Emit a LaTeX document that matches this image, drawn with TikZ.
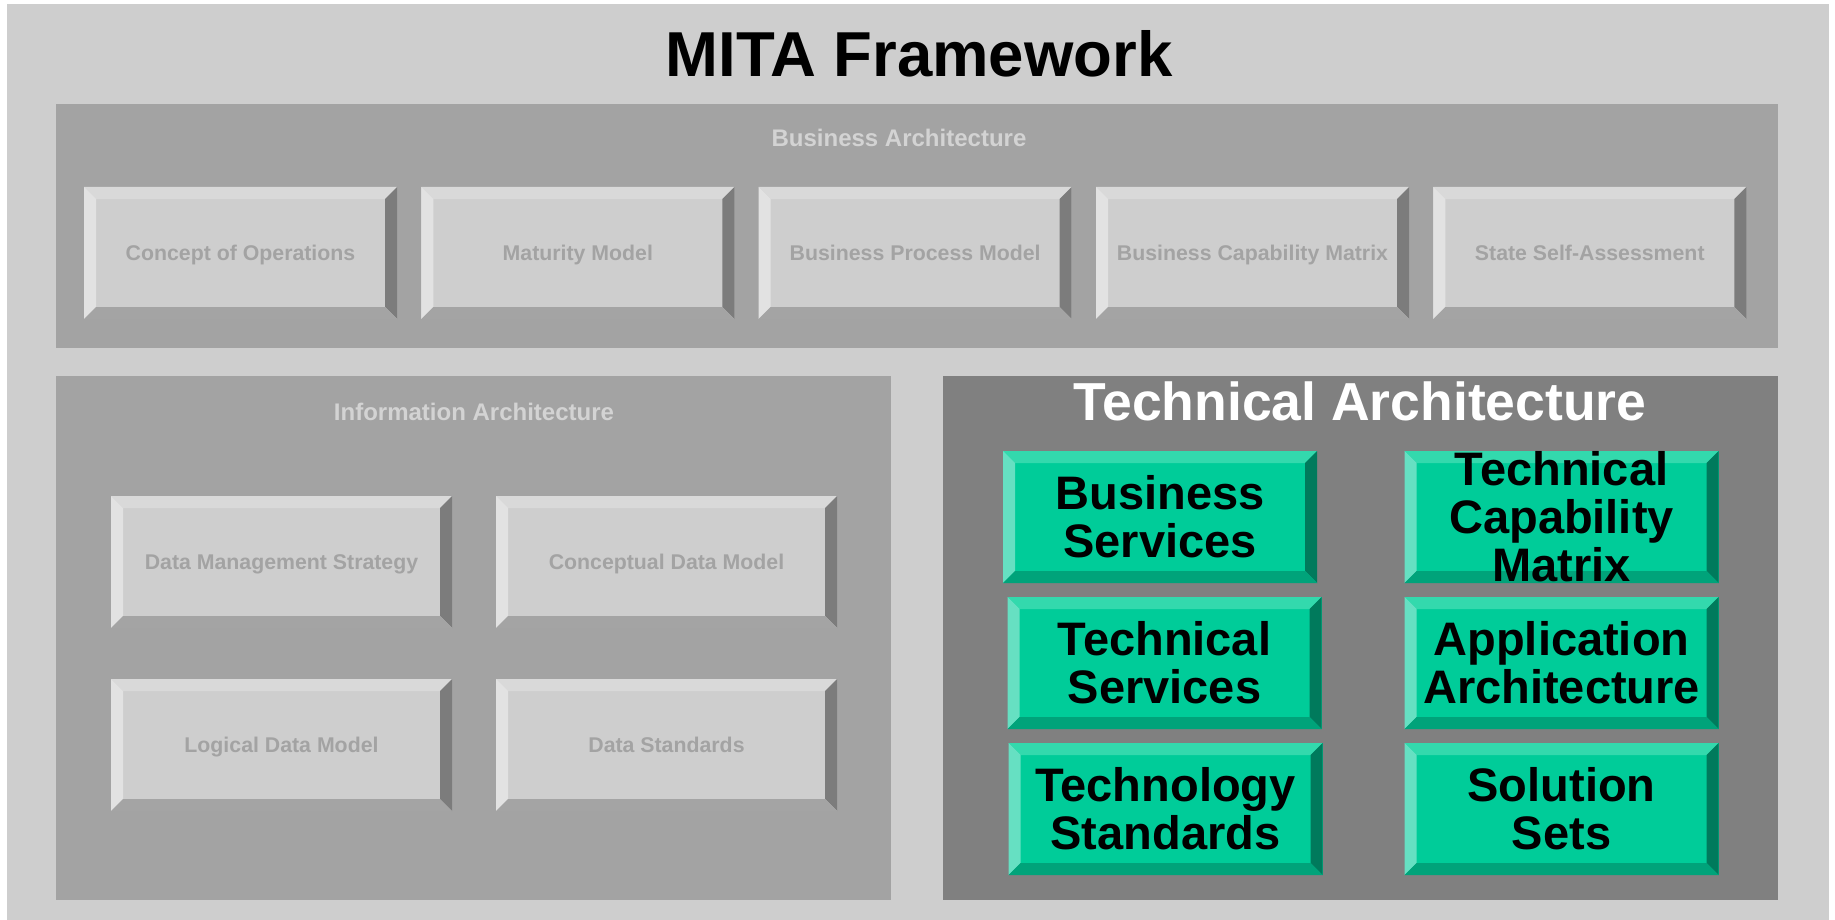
\documentclass[tikz,border=0pt]{standalone}
\usepackage{fontspec}
\setmainfont{Liberation Sans}
\usepackage{tikz}
\usetikzlibrary{positioning}

\definecolor{bgGray}{HTML}{CECECE}
\definecolor{panelGray}{HTML}{A3A3A3}
\definecolor{techGray}{HTML}{808080}
\definecolor{labelGray}{HTML}{D3D3D3}
\definecolor{gbFace}{HTML}{CECECE}
\definecolor{gbTop}{HTML}{D9D9D9}
\definecolor{gbLeft}{HTML}{E2E2E2}
\definecolor{gbRight}{HTML}{7C7C7C}
\definecolor{gbBot}{HTML}{A4A4A4}
\definecolor{gbText}{HTML}{A3A3A3}
\definecolor{tlFace}{HTML}{00CC99}
\definecolor{tlTop}{HTML}{33D9AD}
\definecolor{tlLeft}{HTML}{66E0C2}
\definecolor{tlRight}{HTML}{007A5C}
\definecolor{tlBot}{HTML}{00A37A}

% raised edge of a box: top, left, right, bottom
\tikzset{bevel/.style n args={4}{path picture={
\fill[#1] (path picture bounding box.north west) -- (path picture bounding box.north east) -- ([xshift=-12pt,yshift=-12pt]path picture bounding box.north east) -- ([xshift=12pt,yshift=-12pt]path picture bounding box.north west) -- cycle;
\fill[#2] (path picture bounding box.north west) -- ([xshift=12pt,yshift=-12pt]path picture bounding box.north west) -- ([xshift=12pt,yshift=12pt]path picture bounding box.south west) -- (path picture bounding box.south west) -- cycle;
\fill[#3] (path picture bounding box.north east) -- (path picture bounding box.south east) -- ([xshift=-12pt,yshift=12pt]path picture bounding box.south east) -- ([xshift=-12pt,yshift=-12pt]path picture bounding box.north east) -- cycle;
\fill[#4] (path picture bounding box.south west) -- ([xshift=12pt,yshift=12pt]path picture bounding box.south west) -- ([xshift=-12pt,yshift=12pt]path picture bounding box.south east) -- (path picture bounding box.south east) -- cycle;
}}}

\begin{document}
\begin{tikzpicture}[x=1pt,y=-1pt]
\useasboundingbox (0,0) rectangle (1835,920);

%BACKGROUND
\fill[bgGray] (7,4) rectangle (1829,920);
\node[font=\fontsize{63.5}{70}\selectfont\bfseries, anchor=base] (title) at (919,77) {MITA Framework};

%%%%%%%%%%%%%%%%%%%%%%%%%%%%%%%%%%%%%%%%%%%%%%%%%%%%%%%%%%%%%%
%styles
\tikzstyle{panel}=[inner sep=0pt, anchor=north west]
\tikzstyle{seclabel}=[anchor=base, text=labelGray, font=\fontsize{24}{28}\selectfont\bfseries]
\tikzstyle{graybox}=[fill=gbFace, inner sep=0pt, minimum height=132pt, text height=15pt, text depth=0pt, text=gbText, font=\fontsize{21.3}{24}\selectfont\bfseries, bevel={gbTop}{gbLeft}{gbRight}{gbBot}]
\tikzstyle{tealbox}=[fill=tlFace, inner sep=0pt, minimum width=314pt, minimum height=132pt, align=center, font=\fontsize{47}{48}\selectfont\bfseries, bevel={tlTop}{tlLeft}{tlRight}{tlBot}]

%panels
\node[panel, fill=panelGray, minimum width=1722pt, minimum height=244pt] (bizarch) at (56,104) {};
\node[panel, fill=panelGray, minimum width=835pt, minimum height=524pt] (infoarch) at (56,376) {};
\node[panel, fill=techGray, minimum width=835pt, minimum height=524pt] (techarch) at (943,376) {};

%labels
\node[seclabel] (bizlabel) at (899,147) {Business Architecture};
\node[seclabel] (infolabel) at (474,420) {Information Architecture};
\node[anchor=base, text=white, font=\fontsize{53.5}{60}\selectfont\bfseries] (techlabel) at (1360,420) {Technical Architecture};

%business
\node[graybox, minimum width=313pt] (conops) at (240.5,253) {Concept of Operations};
\node[graybox, minimum width=313pt] (maturity) at (577.8,253) {Maturity Model};
\node[graybox, minimum width=313pt] (bpm) at (915.2,253) {Business Process Model};
\node[graybox, minimum width=313pt] (bcm) at (1252.5,253) {Business Capability Matrix};
\node[graybox, minimum width=313pt] (ssa) at (1589.8,253) {State Self-Assessment};

%information
\node[graybox, minimum width=341pt] (dms) at (281.5,562) {Data Management Strategy};
\node[graybox, minimum width=341pt] (cdm) at (666.5,562) {Conceptual Data Model};
\node[graybox, minimum width=341pt] (ldm) at (281.5,745) {Logical Data Model};
\node[graybox, minimum width=341pt] (datastd) at (666.5,745) {Data Standards};

%technical
\node[tealbox] (bizserv) at (1160,517) {Business\\Services};
\node[tealbox] (techserv) at (1164.5,663) {Technical\\Services};
\node[tealbox] (techstd) at (1165.5,809) {Technology\\Standards};
\node[tealbox] (tcm) at (1561.5,517) {Technical\\Capability\\Matrix};
\node[tealbox] (apparch) at (1561.5,663) {Application\\Architecture};
\node[tealbox] (solsets) at (1561.5,809) {Solution\\Sets};
\end{tikzpicture}
\end{document}
